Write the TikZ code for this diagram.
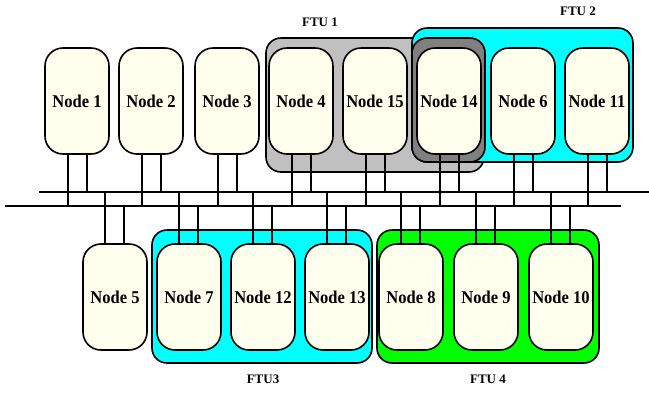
\documentclass[tikz,border=0pt]{standalone}
\usepackage{fontspec}
\setmainfont{Liberation Serif}
\definecolor{nodefill}{HTML}{FFFFEE}
\definecolor{ftugray}{HTML}{C0C0C0}
\definecolor{ftudark}{HTML}{808080}
\definecolor{ftucyan}{HTML}{00FFFF}
\definecolor{ftugreen}{HTML}{00FF00}
\tikzset{
  unit/.style={draw=black, line width=1.6pt, fill=nodefill, rounded corners=18pt,
    minimum width=64pt, minimum height=106pt, inner sep=0pt,
    font=\fontsize{18}{18}\selectfont\bfseries, text depth=0pt},
  ftubox/.style={draw=black, line width=1.6pt, rounded corners=15pt},
  ftulabel/.style={font=\fontsize{13}{13}\selectfont\bfseries, inner sep=0pt},
  bus/.style={line width=1.6pt},
  wire/.style={line width=1.6pt},
}
\newcommand{\nd}[1]{\scalebox{0.92}[1]{#1}}
\begin{document}
\begin{tikzpicture}[x=1pt,y=-1pt]
\useasboundingbox (0,0) rectangle (649,392);
% FTU boxes
\draw[ftubox, fill=ftugray] (266,38) rectangle (484,172);
\draw[ftubox, fill=ftucyan] (412,28) rectangle (633,162);
\draw[ftubox, fill=ftudark] (412,38) rectangle (485,162);
\draw[ftubox, fill=ftucyan] (152,230) rectangle (372,363);
\draw[ftubox, fill=ftugreen] (377,230) rectangle (599,363);
\node[ftulabel] (l1) at (320,22) {FTU 1};
\node[ftulabel] (l2) at (578,11) {FTU 2};
\node[ftulabel] (l3) at (263,379) {FTU3};
\node[ftulabel] (l4) at (488,379) {FTU 4};
% buses
\coordinate (ua) at (39,192); \coordinate (ub) at (649,192);
\coordinate (la) at (5,206);  \coordinate (lb) at (621,206);
\draw[bus] (ua) -- (ub);
\draw[bus] (la) -- (lb);
% nodes
\node[unit] (N1) at (77,101) {\nd{Node 1}};
\node[unit] (N2) at (151,101) {\nd{Node 2}};
\node[unit] (N3) at (227,101) {\nd{Node 3}};
\node[unit] (N4) at (301,101) {\nd{Node 4}};
\node[unit] (N15) at (375,101) {\nd{Node 15}};
\node[unit] (N14) at (449,101) {\nd{Node 14}};
\node[unit] (N6) at (523,101) {\nd{Node 6}};
\node[unit] (N11) at (597,101) {\nd{Node 11}};
\node[unit] (N5) at (115,297) {\nd{Node 5}};
\node[unit] (N7) at (189,297) {\nd{Node 7}};
\node[unit] (N12) at (263,297) {\nd{Node 12}};
\node[unit] (N13) at (337,297) {\nd{Node 13}};
\node[unit] (N8) at (411,297) {\nd{Node 8}};
\node[unit] (N9) at (486,297) {\nd{Node 9}};
\node[unit] (N10) at (561,297) {\nd{Node 10}};
% wires of the top row: left to lower bus, right to upper bus
\foreach \n in {N1,N2,N3,N4,N15,N14,N6,N11} {
  \draw[wire] ([xshift=-9pt]\n.south) -- ([xshift=-9pt]\n.south |- la);
  \draw[wire] ([xshift=10pt]\n.south) -- ([xshift=10pt]\n.south |- ua);
}
% wires of the bottom row: left to upper bus, right to lower bus
\foreach \n in {N5,N7,N12,N13,N8,N9,N10} {
  \draw[wire] ([xshift=-10pt]\n.north) -- ([xshift=-10pt]\n.north |- ua);
  \draw[wire] ([xshift=9pt]\n.north) -- ([xshift=9pt]\n.north |- la);
}
\end{tikzpicture}
\end{document}
